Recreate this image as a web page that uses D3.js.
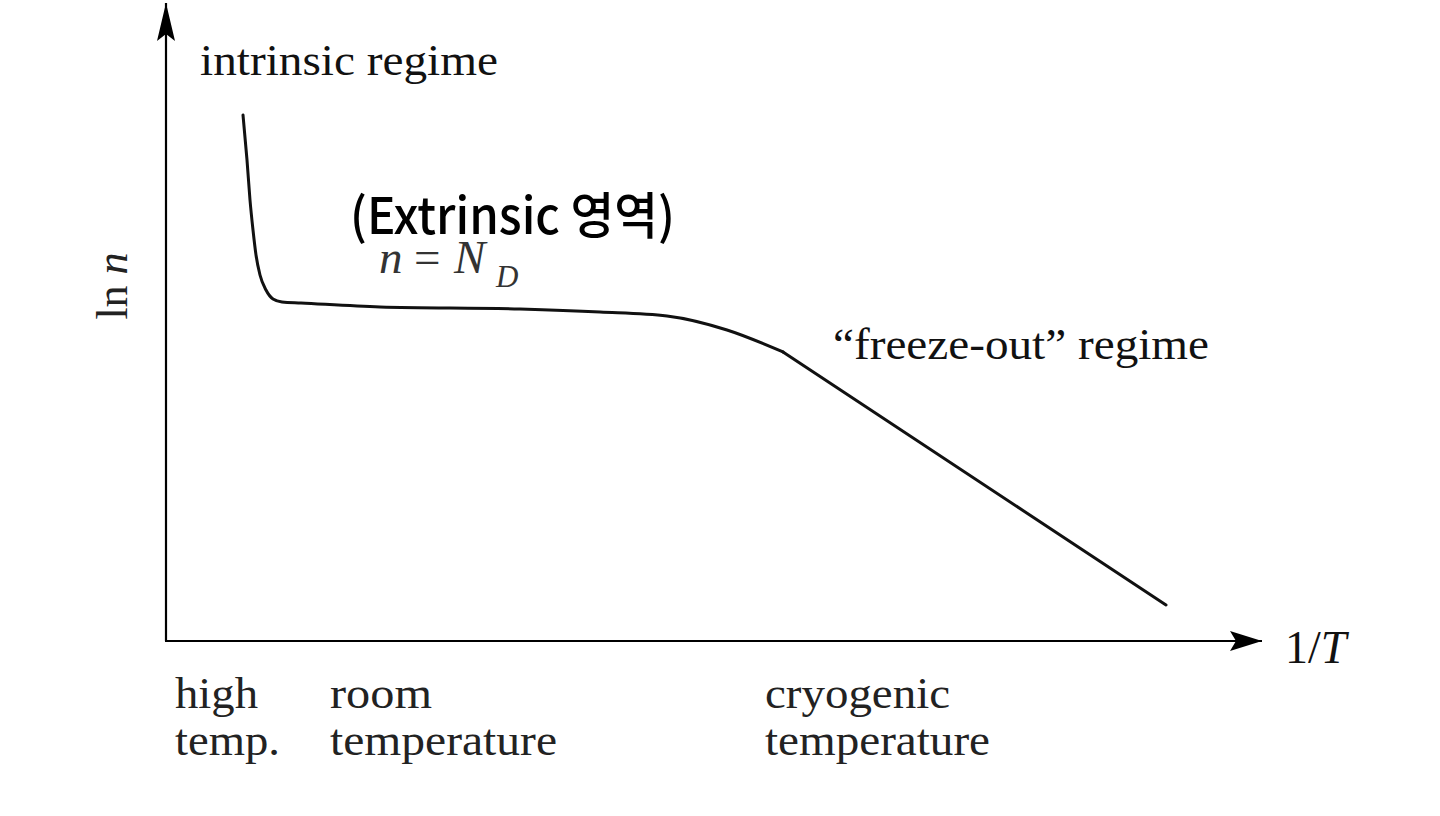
<!DOCTYPE html>
<html>
<head>
<meta charset="utf-8">
<script src="https://cdn.jsdelivr.net/npm/d3@7"></script>
<style>
  html, body { margin: 0; padding: 0; background: #fff; }
  svg { display: block; }
</style>
</head>
<body>
<svg id="chart" width="1440" height="816"></svg>
<script>
// Data: schematic ln n vs 1/T (arbitrary units)
const invT = [7.7, 8.1, 8.4, 8.7, 9.0, 9.4, 10.0, 10.7, 11.6, 13.5, 21.4, 35.4, 43.4, 50.1, 56.1, 61.7, 100.0];
const lnN  = [52.6, 48.1, 44.1, 41.1, 38.6, 36.6, 35.1, 34.2, 33.9, 33.8, 33.4, 33.2, 32.9, 32.5, 31.1, 28.9, 3.6];
const straightFrom = 15; // freeze-out regime is a straight line from this point on

const axisLabels = { x: "1/T", y: "ln n" };
const regimeLabels = ["intrinsic regime", "“freeze-out” regime"];
const tempLabels = [
  { lines: ["high", "temp."], at: 0.9, widths: [83, 105] },
  { lines: ["room", "temperature"], at: 16.4, widths: [102, 227] },
  { lines: ["cryogenic", "temperature"], at: 59.9, widths: [185, 225] }
];
const handNote = "(Extrinsic 영역)";

const svg = d3.select("#chart");
const x = d3.scaleLinear().domain([0, 110]).range([166, 1266]);
const y = d3.scaleLinear().domain([0, 63]).range([641, 11]);

const serif = "'Liberation Serif', 'DejaVu Serif', serif";

// Arrow markers
const defs = svg.append("defs");
defs.append("marker")
  .attr("id", "arrowX").attr("viewBox", "0 0 32 20")
  .attr("refX", 32).attr("refY", 10)
  .attr("markerWidth", 32).attr("markerHeight", 20)
  .attr("markerUnits", "userSpaceOnUse").attr("orient", "auto")
  .append("path").attr("d", "M0,0 L32,10 L0,20 L6,10 Z").attr("fill", "#000");
defs.append("marker")
  .attr("id", "arrowY").attr("viewBox", "0 0 38 18")
  .attr("refX", 38).attr("refY", 9)
  .attr("markerWidth", 38).attr("markerHeight", 18)
  .attr("markerUnits", "userSpaceOnUse").attr("orient", "auto")
  .append("path").attr("d", "M0,0 L38,9 L0,18 L7,9 Z").attr("fill", "#000");

// Axes
svg.append("line")
  .attr("x1", x(0)).attr("y1", y(0)).attr("x2", x(0)).attr("y2", y(63) - 8)
  .attr("stroke", "#000").attr("stroke-width", 2.2).attr("marker-end", "url(#arrowY)");
svg.append("line")
  .attr("x1", x(0) - 1).attr("y1", y(0)).attr("x2", x(109.6)).attr("y2", y(0))
  .attr("stroke", "#000").attr("stroke-width", 2.2).attr("marker-end", "url(#arrowX)");

// Curve: smooth part + straight freeze-out part
const pts = invT.map((v, i) => [v, lnN[i]]);
const smooth = d3.line().x(d => x(d[0])).y(d => y(d[1])).curve(d3.curveMonotoneX);
const straight = d3.line().x(d => x(d[0])).y(d => y(d[1]));
[[smooth, pts.slice(0, straightFrom + 1)], [straight, pts.slice(straightFrom)]].forEach(([gen, seg]) => {
  svg.append("path").datum(seg)
    .attr("d", gen).attr("fill", "none").attr("stroke", "#111")
    .attr("stroke-width", 3).attr("stroke-linejoin", "round").attr("stroke-linecap", "round");
});

// Axis labels
const yl = svg.append("text")
  .attr("transform", `translate(127, ${y(35.5)}) rotate(-90)`)
  .attr("text-anchor", "middle")
  .attr("font-family", serif).attr("font-size", 44).attr("fill", "#222");
yl.append("tspan").text("ln ");
yl.append("tspan").attr("font-style", "italic").text("n");

const xl = svg.append("text")
  .attr("x", x(110) + 19).attr("y", y(0) + 22)
  .attr("font-family", serif).attr("font-size", 46).attr("fill", "#111");
xl.append("tspan").text("1/");
xl.append("tspan").attr("font-style", "italic").text("T");

// Regime labels
svg.append("text").attr("x", 200).attr("y", 75)
  .attr("font-family", serif).attr("font-size", 45).attr("fill", "#111")
  .attr("textLength", 298).attr("lengthAdjust", "spacingAndGlyphs")
  .text(regimeLabels[0]);
svg.append("text").attr("x", 833).attr("y", 359)
  .attr("font-family", serif).attr("font-size", 45).attr("fill", "#111")
  .attr("textLength", 376).attr("lengthAdjust", "spacingAndGlyphs")
  .text(regimeLabels[1]);

// n = N_D
const nd = svg.append("text").attr("y", 273)
  .attr("font-family", serif).attr("font-size", 47).attr("fill", "#333");
nd.append("tspan").attr("x", 379).attr("font-style", "italic").text("n");
nd.append("tspan").attr("x", 414).text("=");
nd.append("tspan").attr("x", 454).attr("font-style", "italic").text("N");
nd.append("tspan").attr("x", 496).attr("font-style", "italic").attr("font-size", 31).attr("dy", 14).text("D");

// Handwritten note
svg.append("text").attr("x", 350).attr("y", 234)
  .attr("font-family", "'Noto Sans CJK KR', 'Noto Sans', sans-serif")
  .attr("font-size", 50).attr("font-weight", 500).attr("fill", "#000")
  .attr("textLength", 325).attr("lengthAdjust", "spacingAndGlyphs")
  .text(handNote);

// Temperature labels
tempLabels.forEach(t => {
  t.lines.forEach((ln, i) => {
    svg.append("text")
      .attr("x", x(t.at)).attr("y", 708 + i * 47)
      .attr("font-family", serif).attr("font-size", 44).attr("fill", "#222")
      .attr("textLength", t.widths[i]).attr("lengthAdjust", "spacingAndGlyphs")
      .text(ln);
  });
});
</script>
</body>
</html>
